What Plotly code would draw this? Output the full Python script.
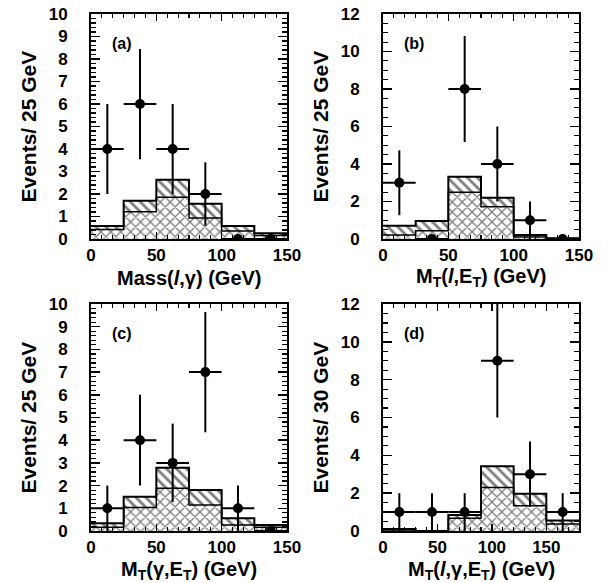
import plotly.graph_objects as go

# ---------------- data ----------------
# panel (a) Mass(l,gamma)
a_edges = [0, 25, 50, 75, 100, 125, 150]
a_total = [0.58, 1.70, 2.63, 1.57, 0.58, 0.25]
a_lower = [0.42, 1.21, 1.85, 0.93, 0.35, 0.15]
a_x = [12.5, 37.5, 62.5, 87.5, 112.5, 137.5]
a_n = [4, 6, 4, 2, 0, 0]
a_err = [2.0, 2.45, 2.0, 1.41, 0, 0]

# panel (b) MT(l,ET)
b_edges = [0, 25, 50, 75, 100, 125, 150]
b_total = [0.70, 0.96, 3.32, 2.20, 0.21, 0.04]
b_lower = [0.21, 0.44, 2.49, 1.72, 0.10, 0.02]
b_x = [12.5, 37.5, 62.5, 87.5, 112.5, 137.5]
b_n = [3, 0, 8, 4, 1, 0]
b_err = [1.73, 0, 2.83, 2.0, 1.0, 0]

# panel (c) MT(gamma,ET)
c_edges = [0, 25, 50, 75, 100, 125, 150]
c_total = [0.34, 1.51, 2.79, 1.81, 0.56, 0.26]
c_lower = [0.16, 1.04, 1.88, 1.15, 0.26, 0.16]
c_x = [12.5, 37.5, 62.5, 87.5, 112.5, 137.5]
c_n = [1, 4, 3, 7, 1, 0]
c_err = [1.0, 2.0, 1.73, 2.65, 1.0, 0]

# panel (d) MT(l,gamma,ET)
d_edges = [0, 30, 60, 90, 120, 150, 180]
d_total = [0.10, 0.0, 0.85, 3.42, 1.97, 0.55]
d_lower = [0.05, 0.0, 0.67, 2.30, 1.33, 0.37]
d_x = [15, 45, 75, 105, 135, 165]
d_n = [1, 1, 1, 9, 3, 1]
d_err = [1.0, 1.0, 1.0, 3.0, 1.73, 1.0]

panels = [
    dict(edges=a_edges, total=a_total, lower=a_lower, x=a_x, n=a_n, err=a_err,
         xr=[0, 150], yr=[0, 10], ydt=1, ymdt=0.2, xdt=50, xmdt=50/6,
         label="(a)", xtitle="Mass(<i>l</i>,γ) (GeV)", ytitle="Events/ 25 GeV",
         xd=[91/609, 287/609], yd=[1-239/583, 1-14/583]),
    dict(edges=b_edges, total=b_total, lower=b_lower, x=b_x, n=b_n, err=b_err,
         xr=[0, 150], yr=[0, 12], ydt=2, ymdt=0.5, xdt=50, xmdt=50/6,
         label="(b)", xtitle="M<sub>T</sub>(<i>l</i>,E<sub>T</sub>) (GeV)", ytitle="Events/ 25 GeV",
         xd=[383/609, 579/609], yd=[1-239/583, 1-14/583]),
    dict(edges=c_edges, total=c_total, lower=c_lower, x=c_x, n=c_n, err=c_err,
         xr=[0, 150], yr=[0, 10], ydt=1, ymdt=0.2, xdt=50, xmdt=50/6,
         label="(c)", xtitle="M<sub>T</sub>(γ,E<sub>T</sub>) (GeV)", ytitle="Events/ 25 GeV",
         xd=[91/609, 287/609], yd=[1-531/583, 1-304/583]),
    dict(edges=d_edges, total=d_total, lower=d_lower, x=d_x, n=d_n, err=d_err,
         xr=[0, 180], yr=[0, 12], ydt=2, ymdt=0.5, xdt=50, xmdt=10,
         label="(d)", xtitle="M<sub>T</sub>(<i>l</i>,γ,E<sub>T</sub>) (GeV)", ytitle="Events/ 30 GeV",
         xd=[383/609, 579/609], yd=[1-531/583, 1-304/583]),
]

FONT = "Liberation Sans, Arial, sans-serif"
fig = go.Figure()
annotations = []
layout = {}

for i, p in enumerate(panels):
    k = "" if i == 0 else str(i + 1)
    xa, ya = "x" + k, "y" + k
    edges = p["edges"]
    centers = [(edges[j] + edges[j + 1]) / 2 for j in range(len(edges) - 1)]
    widths = [edges[j + 1] - edges[j] for j in range(len(edges) - 1)]
    # total (single-hatched)
    fig.add_trace(go.Bar(x=centers, y=p["total"], width=widths, xaxis=xa, yaxis=ya,
                         marker=dict(color="white", line=dict(width=0),
                                     pattern=dict(shape="\\", fgcolor="black", bgcolor="white",
                                                  size=7, solidity=0.4, fillmode="overlay")),
                         showlegend=False, hoverinfo="skip"))
    # lower component (cross-hatched)
    fig.add_trace(go.Bar(x=centers, y=p["lower"], width=widths, xaxis=xa, yaxis=ya,
                         marker=dict(color="white", line=dict(width=0),
                                     pattern=dict(shape="x", fgcolor="black", bgcolor="white",
                                                  size=7, solidity=0.35, fillmode="overlay")),
                         showlegend=False, hoverinfo="skip"))
    # outlines
    fig.add_trace(go.Scatter(x=edges, y=p["lower"] + [p["lower"][-1]], mode="lines",
                             line=dict(color="black", width=1.5, shape="hv"),
                             xaxis=xa, yaxis=ya, showlegend=False, hoverinfo="skip"))
    fig.add_trace(go.Scatter(x=edges, y=p["total"] + [p["total"][-1]], mode="lines",
                             line=dict(color="black", width=2, shape="hv"),
                             xaxis=xa, yaxis=ya, showlegend=False, hoverinfo="skip"))
    # data points
    fig.add_trace(go.Scatter(x=p["x"], y=p["n"], mode="markers", xaxis=xa, yaxis=ya,
                             marker=dict(color="black", size=10),
                             error_y=dict(type="data", array=p["err"], color="black",
                                          thickness=2, width=0),
                             error_x=dict(type="data", array=[w / 2 for w in widths],
                                          color="black", thickness=2, width=0),
                             showlegend=False, hoverinfo="skip"))
    common = dict(showline=True, linewidth=2, linecolor="black", mirror="allticks",
                  ticks="inside", showgrid=False, zeroline=False, tickcolor="black",
                  automargin=False,
                  tickfont=dict(family=FONT, size=17, color="black", weight="bold"))
    layout["xaxis" + k] = dict(domain=p["xd"], range=p["xr"], anchor=ya, tick0=0, dtick=p["xdt"],
                               ticklen=7, tickwidth=1.5,
                               minor=dict(ticks="inside", ticklen=4, dtick=p["xmdt"], tick0=0,
                                          tickwidth=1.2, tickcolor="black", showgrid=False),
                               **common)
    layout["yaxis" + k] = dict(domain=p["yd"], range=p["yr"], anchor=xa, tick0=0, dtick=p["ydt"],
                               ticklen=9, tickwidth=1.5, ticklabelstandoff=18,
                               minor=dict(ticks="inside", ticklen=5, dtick=p["ymdt"], tick0=0,
                                          tickwidth=1.2, tickcolor="black", showgrid=False),
                               **common)
    # panel label
    annotations.append(dict(text=p["label"], xref=xa + " domain", yref=ya + " domain",
                            x=0.095, y=0.87, xanchor="left", yanchor="middle", showarrow=False,
                            font=dict(family=FONT, size=16, color="black", weight="bold")))
    # axis titles
    xmid = (p["xd"][0] + p["xd"][1]) / 2
    ymid = (p["yd"][0] + p["yd"][1]) / 2
    annotations.append(dict(text=p["xtitle"], xref="paper", yref="paper",
                            x=xmid, y=p["yd"][0] - 39 / 583, xanchor="center", yanchor="middle",
                            showarrow=False,
                            font=dict(family=FONT, size=20, color="black", weight="bold")))
    annotations.append(dict(text=p["ytitle"], xref="paper", yref="paper",
                            x=p["xd"][0] - 63 / 609, y=ymid, xanchor="center", yanchor="middle",
                            textangle=-90, showarrow=False,
                            font=dict(family=FONT, size=21, color="black", weight="bold")))

fig.update_layout(template="none", width=609, height=583,
                  margin=dict(l=0, r=0, t=0, b=0, pad=0, autoexpand=False),
                  paper_bgcolor="white", plot_bgcolor="white", barmode="overlay",
                  bargap=0, annotations=annotations, **layout)
fig.write_html("out.html", config={"displayModeBar": False, "staticPlot": True},
               post_script="document.body.style.margin='0';document.body.style.overflow='hidden';")
